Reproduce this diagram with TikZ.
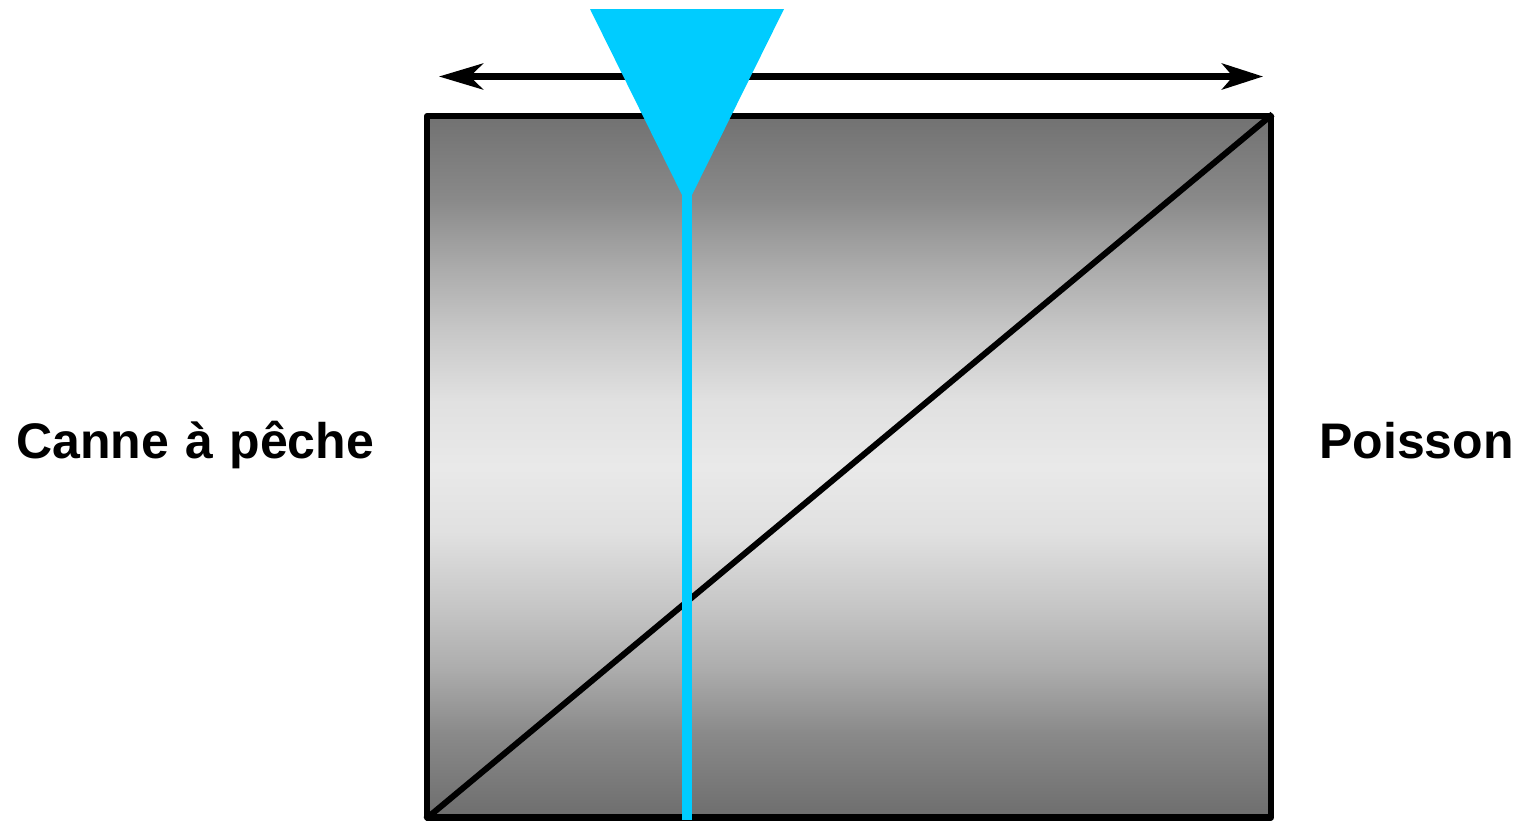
\documentclass[tikz,border=0pt]{standalone}
\usepackage{fontspec}
\setmainfont[WordSpace=1.18]{Liberation Sans}
\usetikzlibrary{arrows.meta}
\definecolor{linecyan}{RGB}{0,204,255}
\pgfdeclareverticalshading{boxgrad}{100bp}{%
  color(0bp)=(black!57); color(25bp)=(black!57); color(31bp)=(black!46);
  color(35.75bp)=(black!32); color(40.25bp)=(black!22); color(45.25bp)=(black!12);
  color(50bp)=(black!8.6); color(54.75bp)=(black!12); color(59.75bp)=(black!22);
  color(64.25bp)=(black!33); color(69bp)=(black!46); color(75bp)=(black!55.5);
  color(100bp)=(black!55.5)}
\tikzset{
  boxshade/.style={draw=black,line width=6.2pt,line join=round,inner sep=0pt,
    shading=boxgrad,minimum width=844pt,minimum height=701.5pt},
  lbl/.style={font=\fontsize{50}{60}\selectfont\bfseries,inner sep=0pt},
  arr/.style={{Stealth[length=44pt,width=26pt,inset=13pt]}-{Stealth[length=41pt,width=26pt,inset=11pt]},line width=6.4pt},
  diag/.style={draw=black,line width=6pt,shorten >=2pt,shorten <=2pt},
  stem/.style={draw=linecyan,line width=10pt},
}
\begin{document}
\begin{tikzpicture}[x=1pt,y=-1pt]
  \useasboundingbox (0,0) rectangle (1520,820);
  % box
  \node[boxshade](box) at (849,466.75){};
  \draw[diag](box.south west)--(box.north east);
  % labels
  \node[lbl,anchor=base west](canne) at (16,458){Canne à pêche};
  \node[lbl,anchor=base east](poisson) at (1514,458){Poisson};
  % arrow
  \coordinate (arrl) at (439,76.5);
  \coordinate (arrr) at (1263,76.5);
  \draw[arr](arrl)--(arrr);
  % funnel and line
  \coordinate (funl) at (590,9);
  \coordinate (funr) at (784,9);
  \coordinate (funtip) at (687,205);
  \coordinate (stemtop) at (687,194);
  \coordinate (stemend) at (687,820);
  \fill[linecyan](funl)--(funr)--(funtip)--cycle;
  \draw[stem](stemtop)--(stemend);
\end{tikzpicture}
\end{document}
